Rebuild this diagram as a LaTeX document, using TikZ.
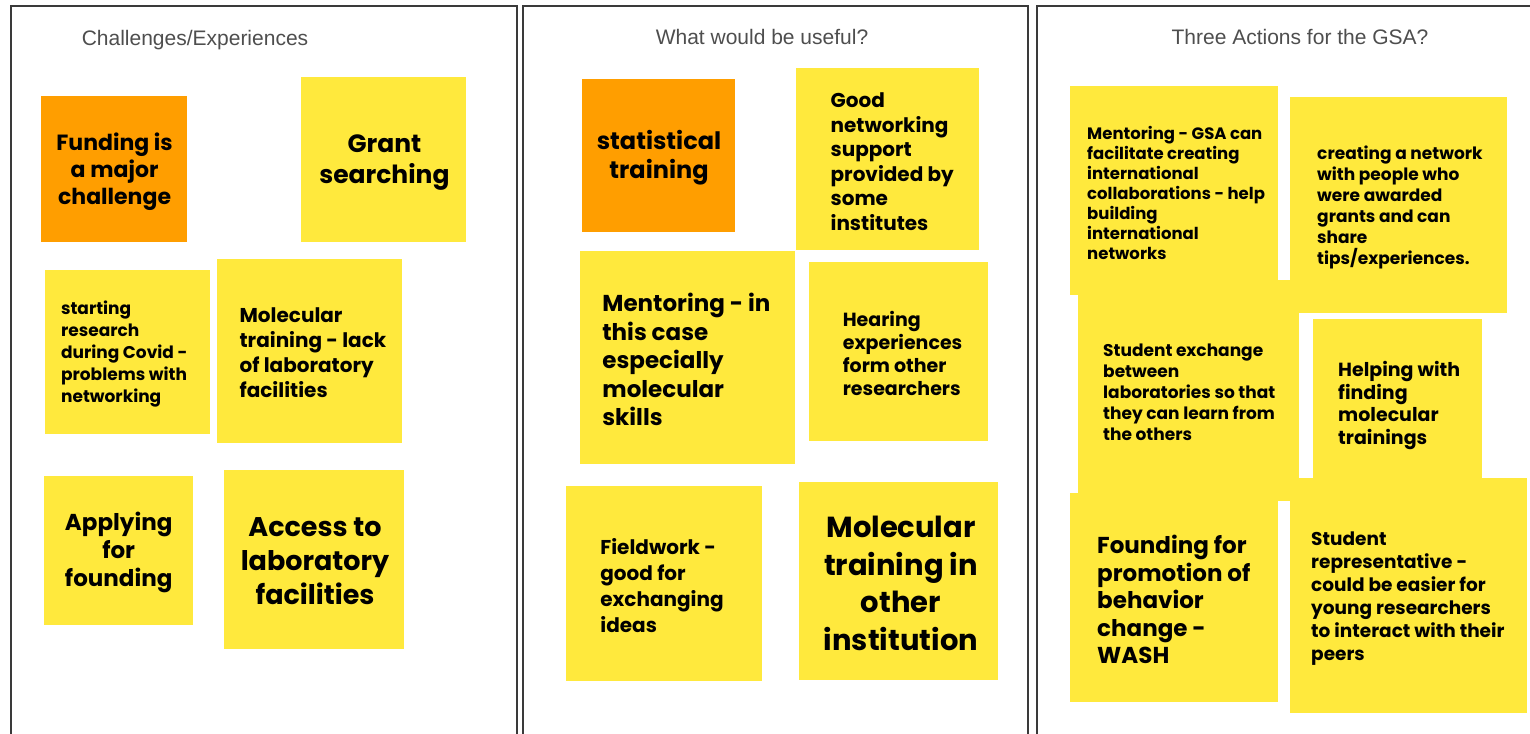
\documentclass[tikz,border=0pt]{standalone}
\usepackage{fontspec}
\setmainfont{Poppins}
\newfontfamily\titlefont{Liberation Sans}
\definecolor{noteyellow}{HTML}{FFE93D}
\definecolor{noteorange}{HTML}{FF9E00}
\definecolor{framegray}{HTML}{3A3A3A}
\definecolor{titlegray}{HTML}{4E4E4E}
\newcommand\fs[2]{\fontsize{#1}{#2}\selectfont\bfseries}
\tikzset{
  panel/.style={draw=framegray, line width=2.4pt},
  note/.style={draw=none, inner sep=0pt, anchor=north west},
  yel/.style={note, fill=noteyellow},
  org/.style={note, fill=noteorange},
  lbl/.style={inner sep=0pt, text=black, yshift=-2.5pt},
  lft/.style={lbl, anchor=west, align=left},
  ctr/.style={lbl, anchor=center, align=center},
  ttl/.style={inner sep=0pt, text=titlegray, yshift=-1.5pt, font=\titlefont\fontsize{21}{25}\selectfont}
}
\begin{document}
\begin{tikzpicture}[x=1pt, y=-1pt]
\useasboundingbox (0,0) rectangle (1530,733);
\fill[white] (0,0) rectangle (1530,733);
% panels
\draw[panel] (11,745) -- (11,6) -- (517,6) -- (517,745);
\draw[panel] (523,745) -- (523,6) -- (1028,6) -- (1028,745);
\draw[panel] (1037,745) -- (1037,6) -- (1545,6);
% titles
\node[ttl] (t1) at (195,39) {Challenges/Experiences};
\node[ttl] (t2) at (762,35) {What would be useful?};
\node[ttl] (t3) at (1300,35) {Three Actions for the GSA?};

% ---- panel 1
\node[org, minimum width=146pt, minimum height=146pt] (n1) at (40.6,96) {};
\node[ctr, font=\fs{22}{27}] (n1t) at (114.6,169) {Funding is\\a major\\challenge};
\node[yel, minimum width=165pt, minimum height=165pt] (n2) at (301.2,77) {};
\node[ctr, font=\fs{25}{31}] (n2t) at (384.4,160) {Grant\\searching};
\node[yel, minimum width=165.4pt, minimum height=164pt] (n3) at (44.6,270) {};
\node[lft, font=\fs{17}{22}] (n3t) at (60.9,352) {starting\\research\\during Covid -\\problems with\\networking};
\node[yel, minimum width=184.6pt, minimum height=184pt] (n4) at (217,259) {};
\node[lft, font=\fs{20}{25}] (n4t) at (239.4,350) {Molecular\\training - lack\\of laboratory\\facilities};
\node[yel, minimum width=149pt, minimum height=149pt] (n5) at (43.6,476) {};
\node[ctr, font=\fs{23}{28}] (n5t) at (118.7,550) {Applying\\for\\founding};
\node[yel, minimum width=179.5pt, minimum height=179pt] (n6) at (224.1,470) {};
\node[ctr, font=\fs{27}{34}] (n6t) at (315,559) {Access to\\laboratory\\facilities};

% ---- panel 2
\node[org, minimum width=153.2pt, minimum height=153pt] (m1) at (581.9,79) {};
\node[ctr, font=\fs{24}{29}] (m1t) at (659,155) {statistical\\training};
\node[yel, minimum width=182.6pt, minimum height=182pt] (m2) at (795.9,68) {};
\node[lft, font=\fs{20}{24.5}] (m2t) at (830.4,159) {Good\\networking\\support\\provided by\\some\\institutes};
\node[yel, minimum width=215pt, minimum height=213pt] (m3) at (579.9,251) {};
\node[lft, font=\fs{23}{28.5}] (m3t) at (602.2,357) {Mentoring - in\\this case\\especially\\molecular\\skills};
\node[yel, minimum width=178.7pt, minimum height=179pt] (m4) at (809.1,262) {};
\node[lft, font=\fs{19}{23.3}] (m4t) at (842.6,351) {Hearing\\experiences\\form other\\researchers};
\node[yel, minimum width=195.8pt, minimum height=195pt] (m5) at (565.7,486) {};
\node[lft, font=\fs{20}{26}] (m5t) at (600.2,583) {Fieldwork -\\good for\\exchanging\\ideas};
\node[yel, minimum width=198.8pt, minimum height=198pt] (m6) at (799,482) {};
\node[ctr, font=\fs{29}{37.5}] (m6t) at (901,581) {Molecular\\training in\\other\\institution};

% ---- panel 3
\node[yel, minimum width=221pt, minimum height=221pt] (k3) at (1078,280) {};
\node[yel, minimum width=208pt, minimum height=209pt] (k1) at (1070,86) {};
\node[lft, font=\fs{16.5}{20}] (k1t) at (1087,190) {Mentoring - GSA can\\facilitate creating\\international\\collaborations - help\\building\\international\\networks};
\node[yel, minimum width=217pt, minimum height=216pt] (k2) at (1290,97) {};
\node[lft, font=\fs{17}{21}] (k2t) at (1317,205) {creating a network\\with people who\\were awarded\\grants and can\\share\\tips/experiences.};
\node[lft, font=\fs{17}{21}] (k3t) at (1103,390) {Student exchange\\between\\laboratories so that\\they can learn from\\the others};
\node[yel, minimum width=169pt, minimum height=170pt] (k4) at (1313,319) {};
\node[lft, font=\fs{19}{22.5}] (k4t) at (1338,403) {Helping with\\finding\\molecular\\trainings};
\node[yel, minimum width=208pt, minimum height=209pt] (k5) at (1070,493) {};
\node[lft, font=\fs{23}{27.5}] (k5t) at (1097,597) {Founding for\\promotion of\\behavior\\change -\\WASH};
\node[yel, minimum width=237pt, minimum height=235pt] (k6) at (1290,478) {};
\node[lft, font=\fs{18.5}{23}] (k6t) at (1311,596) {Student\\representative -\\could be easier for\\young researchers\\to interact with their\\peers};
\end{tikzpicture}
\end{document}
